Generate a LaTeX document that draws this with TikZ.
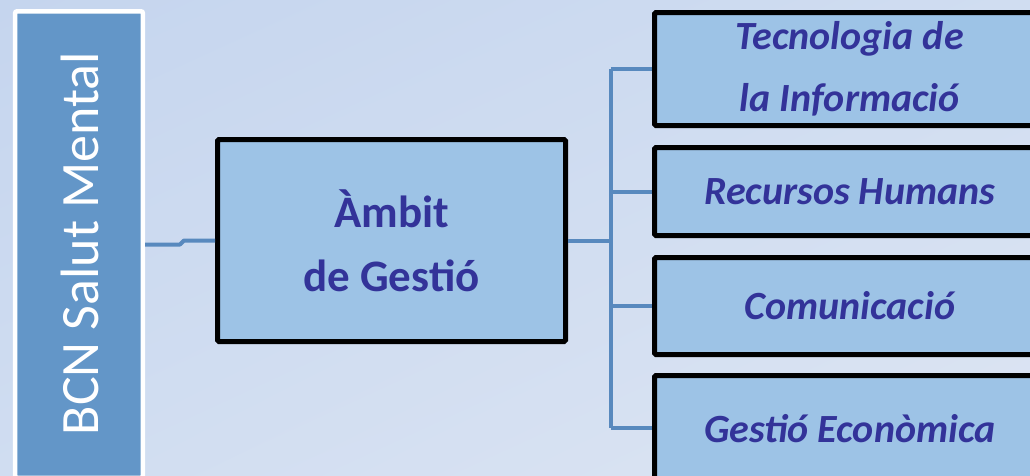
\documentclass[tikz,border=0pt]{standalone}
\usepackage{fontspec}
\setmainfont{Carlito}
\usetikzlibrary{shadings}
\definecolor{bgtop}{RGB}{197,213,238}
\definecolor{bgmid}{RGB}{208,221,241}
\definecolor{bgbottom}{RGB}{221,229,243}
\definecolor{sideblue}{RGB}{99,150,200}
\definecolor{boxblue}{RGB}{157,195,230}
\definecolor{textblue}{RGB}{51,51,153}
\definecolor{linkblue}{RGB}{88,137,190}

\begin{document}
\begin{tikzpicture}[x=1pt,y=-1pt,
	side/.style={draw=white, line width=4.5pt, fill=sideblue, rounded corners=2pt, inner sep=0pt, minimum width=127.8pt, minimum height=466.5pt},
	sidetext/.style={text=white, font=\fontsize{54}{60}\selectfont, rotate=90, inner sep=0pt},
	box/.style={draw=black, line width=5pt, fill=boxblue, rounded corners=1.5pt, inner sep=0pt, align=center, text=textblue},
	area/.style={box, minimum width=390.5pt, font=\bfseries\itshape\fontsize{40}{62}\selectfont},
	link/.style={draw=linkblue, line width=4pt, line join=round}]
	% Background and frame
	\useasboundingbox (0,0) rectangle (1030,475);
	\clip (0,0) rectangle (1030,475);
	\shade[upper left=bgtop, upper right=bgmid, lower left=bgmid, lower right=bgbottom] (0,0) rectangle (1030,475);
	% Draw the boxes
	\node[side] (bcn) at (79,244.5) {};
	\node[sidetext] (bcnlabel) at (80,243.5) {BCN Salut Mental};
	\node[box, minimum width=348pt, minimum height=202pt, font=\bfseries\fontsize{45}{64}\selectfont] (amb) at (391.5,240.5) {Àmbit\\de Gestió};
	\node[area, minimum height=113pt] (tec) at (849.75,69) {Tecnologia de\\la Informació};
	\node[area, minimum height=88pt] (rh) at (849.75,191.5) {Recursos Humans};
	\node[area, minimum height=97pt] (com) at (849.75,306) {Comunicació};
	\node[area, minimum height=105.5pt] (eco) at (849.75,428.25) {Gestió Econòmica};
	% Draw the connectors
	\draw[link] (bcn.east) -- (bcn.east -| 180,0) -- (amb.west -| 184,0) -- (amb.west);
	\coordinate (trunk) at (611,240.5);
	\draw[link] (amb.east) -- (trunk);
	\draw[link] (trunk |- tec.west) -- (trunk |- eco.west);
	\foreach \b in {tec,rh,com,eco} {
		\draw[link] (trunk |- \b.west) -- (\b.west);
	}
\end{tikzpicture}
\end{document}
